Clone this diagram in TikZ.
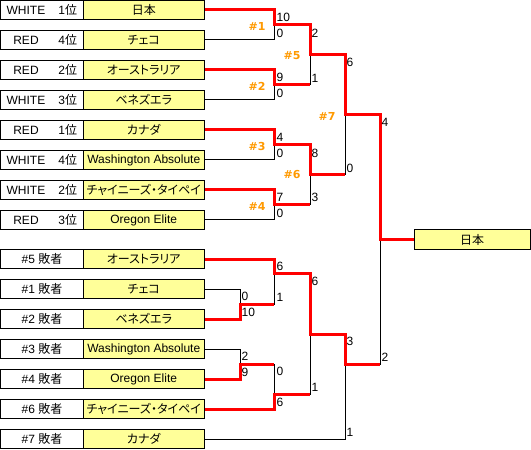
\documentclass[tikz,border=0pt]{standalone}
\usepackage{fontspec}
\setmainfont{Liberation Sans}
\newfontfamily\jp{Noto Sans CJK JP}[RawFeature=+palt]
\newfontfamily\mlabfont{DejaVu Sans}
\definecolor{boxyellow}{HTML}{FFFF99}
\definecolor{matchorange}{HTML}{FF9900}
\newcommand{\J}[1]{{\jp #1}}
\newcommand{\rankcell}[2]{\hbox to 83bp{\hbox to 51bp{\hss #1\hss}\hskip 7bp #2\J{位}\hss}}
\begin{document}
\begin{tikzpicture}[x=1bp,y=-1bp,
  rankbox/.style={draw, line width=1bp, fill=white, minimum width=83bp, minimum height=19bp, inner sep=0pt, font=\fontsize{12bp}{14bp}\selectfont},
  teambox/.style={draw, line width=1bp, fill=boxyellow, minimum width=120.5bp, minimum height=19bp, inner sep=0pt, font=\fontsize{12bp}{14bp}\selectfont},
  champbox/.style={teambox, minimum width=116bp},
  score/.style={anchor=west, inner sep=0pt, font=\fontsize{12bp}{14bp}\selectfont},
  matchno/.style={inner sep=0pt, text=matchorange, font=\fontsize{11bp}{13bp}\selectfont\mlabfont\bfseries},
  lose/.style={line width=1bp, black},
  win/.style={line width=3bp, red, line join=miter}]
\useasboundingbox (0,0) rectangle (531,450);

% top bracket boxes
\node[rankbox] (r1) at (42,10)  {\rankcell{WHITE}{1}};
\node[rankbox] (r2) at (42,40)  {\rankcell{RED}{4}};
\node[rankbox] (r3) at (42,70)  {\rankcell{RED}{2}};
\node[rankbox] (r4) at (42,100) {\rankcell{WHITE}{3}};
\node[rankbox] (r5) at (42,130) {\rankcell{RED}{1}};
\node[rankbox] (r6) at (42,160) {\rankcell{WHITE}{4}};
\node[rankbox] (r7) at (42,190) {\rankcell{WHITE}{2}};
\node[rankbox] (r8) at (42,220) {\rankcell{RED}{3}};
\node[teambox] (t1) at (143.75,10)  {\J{日本}};
\node[teambox] (t2) at (143.75,40)  {\J{チェコ}};
\node[teambox] (t3) at (143.75,70)  {\J{オーストラリア}};
\node[teambox] (t4) at (143.75,100) {\J{ベネズエラ}};
\node[teambox] (t5) at (143.75,130) {\J{カナダ}};
\node[teambox] (t6) at (143.75,160) {Washington Absolute};
\node[teambox] (t7) at (143.75,190) {\J{チャイニーズ・タイペイ}};
\node[teambox] (t8) at (143.75,220) {Oregon Elite};

% bottom bracket boxes
\node[rankbox] (q1) at (42,259) {\#5 \J{敗者}};
\node[rankbox] (q2) at (42,289) {\#1 \J{敗者}};
\node[rankbox] (q3) at (42,319) {\#2 \J{敗者}};
\node[rankbox] (q4) at (42,349) {\#3 \J{敗者}};
\node[rankbox] (q5) at (42,379) {\#4 \J{敗者}};
\node[rankbox] (q6) at (42,409) {\#6 \J{敗者}};
\node[rankbox] (q7) at (42,439) {\#7 \J{敗者}};
\node[teambox] (b1) at (143.75,259) {\J{オーストラリア}};
\node[teambox] (b2) at (143.75,289) {\J{チェコ}};
\node[teambox] (b3) at (143.75,319) {\J{ベネズエラ}};
\node[teambox] (b4) at (143.75,349) {Washington Absolute};
\node[teambox] (b5) at (143.75,379) {Oregon Elite};
\node[teambox] (b6) at (143.75,409) {\J{チャイニーズ・タイペイ}};
\node[teambox] (b7) at (143.75,439) {\J{カナダ}};

\node[champbox] (champ) at (472,239.5) {\J{日本}};

% junctions
\coordinate (j1) at (274,25);
\coordinate (j2) at (274,85);
\coordinate (j3) at (274,145);
\coordinate (j4) at (274,205);
\coordinate (j5) at (310,55);
\coordinate (j6) at (310,175);
\coordinate (j7) at (345,115);
\coordinate (jf) at (380,239.5);
\coordinate (k1) at (240,304);
\coordinate (k2) at (240,364);
\coordinate (k3) at (274,273.5);
\coordinate (k4) at (274,394);
\coordinate (k5) at (310,334);
\coordinate (k6) at (345,364);

% all bracket lines
\draw[lose] (t1.east) -| (j1);
\draw[lose] (t2.east) -| (j1);
\draw[lose] (t3.east) -| (j2);
\draw[lose] (t4.east) -| (j2);
\draw[lose] (t5.east) -| (j3);
\draw[lose] (t6.east) -| (j3);
\draw[lose] (t7.east) -| (j4);
\draw[lose] (t8.east) -| (j4);
\draw[lose] (j1) -| (j5);
\draw[lose] (j2) -| (j5);
\draw[lose] (j3) -| (j6);
\draw[lose] (j4) -| (j6);
\draw[lose] (j5) -| (j7);
\draw[lose] (j6) -| (j7);
\draw[lose] (b2.east) -| (k1);
\draw[lose] (b3.east) -| (k1);
\draw[lose] (b4.east) -| (k2);
\draw[lose] (b5.east) -| (k2);
\draw[lose] (b1.east) -| (k3);
\draw[lose] (k1) -| (k3);
\draw[lose] (k2) -| (k4);
\draw[lose] (b6.east) -| (k4);
\draw[lose] (k3) -| (k5);
\draw[lose] (k4) -| (k5);
\draw[lose] (k5) -| (k6);
\draw[lose] (b7.east) -| (k6);
\draw[lose] (j7) -| (jf);
\draw[lose] (k6) -| (jf);

% winners
\draw[win] (t1.east) -| (j1) -| (j5) -| (j7) -| (jf) -- (champ.west);
\draw[win] (t3.east) -| (j2) -- (j2 -| j5);
\draw[win] (t5.east) -| (j3) -| (j6) -- (j6 -| j7);
\draw[win] (t7.east) -| (j4) -- (j4 -| j6);
\draw[win] (b1.east) -| (k3) -| (k5) -| (k6) -- (k6 -| jf);
\draw[win] (b3.east) -| (k1) -- (k1 -| k3);
\draw[win] (b5.east) -| (k2) -- (k2 -| k4);
\draw[win] (b6.east) -| (k4) -- (k4 -| k5);

% match numbers
\node[matchno] (m1) at (257,26)  {\#1};
\node[matchno] (m2) at (257,86)  {\#2};
\node[matchno] (m3) at (257,146) {\#3};
\node[matchno] (m4) at (257,206) {\#4};
\node[matchno] (m5) at (292,56)  {\#5};
\node[matchno] (m6) at (292,175) {\#6};
\node[matchno] (m7) at (327,116) {\#7};

% scores top
\node[score] (s1)  at (276.5,17)  {10};
\node[score] (s2)  at (276.5,33)  {0};
\node[score] (s3)  at (276.5,77)  {9};
\node[score] (s4)  at (276.5,93)  {0};
\node[score] (s5)  at (276.5,137) {4};
\node[score] (s6)  at (276.5,153) {0};
\node[score] (s7)  at (276.5,197) {7};
\node[score] (s8)  at (276.5,213) {0};
\node[score] (s9)  at (311.5,33)  {2};
\node[score] (s10) at (311.5,78)  {1};
\node[score] (s11) at (311.5,153) {8};
\node[score] (s12) at (311.5,197) {3};
\node[score] (s13) at (346.5,62)  {6};
\node[score] (s14) at (346.5,168) {0};
\node[score] (s15) at (381.5,122) {4};
\node[score] (s16) at (381.5,357) {2};
% scores bottom
\node[score] (u1)  at (276.5,266) {6};
\node[score] (u2)  at (276.5,297) {1};
\node[score] (u3)  at (241.5,296) {0};
\node[score] (u4)  at (241.5,312) {10};
\node[score] (u5)  at (241.5,356) {2};
\node[score] (u6)  at (241.5,372) {9};
\node[score] (u7)  at (276.5,371) {0};
\node[score] (u8)  at (276.5,402) {6};
\node[score] (u9)  at (311.5,281) {6};
\node[score] (u10) at (311.5,387) {1};
\node[score] (u11) at (346.5,341) {3};
\node[score] (u12) at (346.5,432) {1};
\end{tikzpicture}
\end{document}
